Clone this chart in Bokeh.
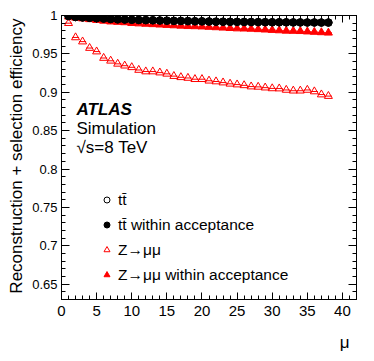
import math
from bokeh.plotting import figure
from bokeh.models import (LinearAxis, SingleIntervalTicker, CustomJSTickFormatter,
                          CustomLabelingPolicy, Label, Legend, LegendItem,
                          ColumnDataSource, Range1d, Title)
from bokeh.embed import file_html
from bokeh.resources import INLINE

# ---------------- data ----------------
mu = list(range(1, 39))
tt_all = [0.9993, 0.998, 0.9975, 0.997, 0.9965, 0.996, 0.9955, 0.995, 0.9948, 0.9945,
          0.9942, 0.994, 0.9938, 0.9935, 0.9933, 0.993, 0.9929, 0.9927, 0.9925, 0.9924,
          0.9922, 0.992, 0.9919, 0.9918, 0.9917, 0.9916, 0.9915, 0.9914, 0.9913, 0.9912,
          0.9912, 0.9911, 0.991, 0.991, 0.9909, 0.9909, 0.9908, 0.9908]
tt_acc = [0.9993, 0.998, 0.9975, 0.997, 0.9965, 0.996, 0.9955, 0.995, 0.9948, 0.9945,
          0.9942, 0.994, 0.9938, 0.9935, 0.9933, 0.993, 0.9929, 0.9927, 0.9925, 0.9924,
          0.9922, 0.992, 0.9919, 0.9918, 0.9917, 0.9916, 0.9915, 0.9914, 0.9913, 0.9912,
          0.9912, 0.9911, 0.991, 0.991, 0.9909, 0.9909, 0.9908, 0.9908]
z_all = [0.990, 0.9714, 0.966, 0.9576, 0.953, 0.9446, 0.941, 0.937, 0.9346, 0.9325,
         0.929, 0.927, 0.927, 0.9256, 0.924, 0.921, 0.9195, 0.9186, 0.917, 0.917,
         0.915, 0.914, 0.9126, 0.911, 0.910, 0.909, 0.9074, 0.907, 0.906, 0.905,
         0.9048, 0.903, 0.902, 0.902, 0.903, 0.901, 0.897, 0.895]
z_acc = [0.9985, 0.997, 0.996, 0.995, 0.994, 0.993, 0.992, 0.9915, 0.991, 0.990,
         0.9895, 0.989, 0.9885, 0.988, 0.9875, 0.987, 0.9865, 0.986, 0.9858, 0.9855,
         0.985, 0.9845, 0.984, 0.9835, 0.983, 0.9828, 0.9825, 0.982, 0.9815, 0.981,
         0.9805, 0.980, 0.9798, 0.9795, 0.979, 0.9785, 0.978, 0.9775]
bin_half_width = 0.5

legend_labels = ["t\u0074\u0304", "t\u0074\u0304 within acceptance",
                 "Z\u2192\u03bc\u03bc", "Z\u2192\u03bc\u03bc within acceptance"]
y_title = "Reconstruction + selection efficiency"
x_title = "\u03bc"

FONT = "Liberation Sans"

src = ColumnDataSource(dict(
    mu=mu,
    lo=[m - bin_half_width for m in mu],
    hi=[m + bin_half_width for m in mu],
    tt_all=tt_all, tt_acc=tt_acc, z_all=z_all, z_acc=z_acc,
))

p = figure(frame_width=295, frame_height=284, output_backend="svg", toolbar_location=None,
           x_range=Range1d(0, 42), y_range=Range1d(0.63, 1.0),
           min_border_left=52, min_border_right=11, min_border_top=10,
           min_border_bottom=0, x_axis_type=None, y_axis_type=None)
p.background_fill_color = "white"
p.border_fill_color = "white"
p.outline_line_color = "black"
p.outline_line_width = 1
p.xgrid.visible = False
p.ygrid.visible = False

fmt = CustomJSTickFormatter(code="""
var s = tick.toFixed(2);
s = s.replace(/0+$/, '').replace(/\\.$/, '');
return s;
""")
no_labels = CustomLabelingPolicy(code="return [];")

def style_axis(ax, major_in, minor_in, labels=True, size="14px", standoff=4):
    ax.major_tick_in = major_in
    ax.major_tick_out = 0
    ax.minor_tick_in = minor_in
    ax.minor_tick_out = 0
    ax.axis_line_color = "black"
    ax.major_tick_line_color = "black"
    ax.minor_tick_line_color = "black"
    ax.major_label_text_font = FONT
    ax.major_label_text_color = "black"
    ax.major_label_text_font_size = size
    ax.major_label_standoff = standoff
    if not labels:
        ax.major_label_policy = no_labels

xb = LinearAxis(ticker=SingleIntervalTicker(interval=5, num_minor_ticks=5))
style_axis(xb, 7, 4, True, "15px", 6)
p.add_layout(xb, "below")
xt = LinearAxis(ticker=SingleIntervalTicker(interval=5, num_minor_ticks=5))
style_axis(xt, 7, 4, False, "14px", 2)
p.add_layout(xt, "above")

yl = LinearAxis(ticker=SingleIntervalTicker(interval=0.05, num_minor_ticks=5), formatter=fmt)
style_axis(yl, 8, 4, True, "13px", 4)
p.add_layout(yl, "left")
yr = LinearAxis(ticker=SingleIntervalTicker(interval=0.05, num_minor_ticks=5))
style_axis(yr, 8, 4, False, "14px", 0)
p.add_layout(yr, "right")

# axis titles (ROOT style: aligned at the far end)
p.add_layout(Title(text=y_title, align="right", offset=3, standoff=8,
                   text_font=FONT, text_font_size="17px", text_font_style="normal",
                   text_color="black"), "left")
p.add_layout(Title(text=x_title, align="right", offset=7, standoff=24,
                   text_font=FONT, text_font_size="17px", text_font_style="normal",
                   text_color="black"), "below")

# error bars (bin widths)
p.segment(x0="lo", x1="hi", y0="z_all", y1="z_all", source=src, line_color="red", line_width=1)
p.segment(x0="lo", x1="hi", y0="z_acc", y1="z_acc", source=src, line_color="red", line_width=1)
p.segment(x0="lo", x1="hi", y0="tt_acc", y1="tt_acc", source=src, line_color="black", line_width=1)

r_z_all = p.scatter(x="mu", y="z_all", source=src, marker="triangle", size=8,
                    line_color="red", fill_color=None, line_width=1)
r_z_acc = p.scatter(x="mu", y="z_acc", source=src, marker="triangle", size=8,
                    line_color="red", fill_color="red", line_width=1)
r_tt_all = p.scatter(x="mu", y="tt_all", source=src, marker="circle", size=7.5,
                     line_color="black", fill_color=None, line_width=1)
r_tt_acc = p.scatter(x="mu", y="tt_acc", source=src, marker="circle", size=7.5,
                     line_color="black", fill_color="black", line_width=1)

legend = Legend(items=[
    LegendItem(label=legend_labels[0], renderers=[r_tt_all]),
    LegendItem(label=legend_labels[1], renderers=[r_tt_acc]),
    LegendItem(label=legend_labels[2], renderers=[r_z_all]),
    LegendItem(label=legend_labels[3], renderers=[r_z_acc]),
], location=(38, 12), orientation="vertical")
legend.background_fill_alpha = 0
legend.border_line_color = None
legend.padding = 0
legend.margin = 0
legend.spacing = 0
legend.glyph_width = 15
legend.glyph_height = 25
legend.label_height = 25
legend.label_standoff = 4
legend.label_text_font = FONT
legend.label_text_font_size = "15.5px"
legend.label_text_color = "black"
p.add_layout(legend, "center")

# texts
p.add_layout(Label(x=15, y=190, x_units="screen", y_units="screen", text="ATLAS",
                   text_font=FONT, text_font_style="bold italic", text_font_size="17px",
                   text_baseline="middle", text_color="black"))
p.add_layout(Label(x=15, y=171, x_units="screen", y_units="screen", text="Simulation",
                   text_font=FONT, text_font_size="17px",
                   text_baseline="middle", text_color="black"))
p.add_layout(Label(x=15, y=152, x_units="screen", y_units="screen", text="\u221as=8 TeV",
                   text_font=FONT, text_font_size="17px",
                   text_baseline="middle", text_color="black"))

open("out.html", "w").write(file_html(p, INLINE))
